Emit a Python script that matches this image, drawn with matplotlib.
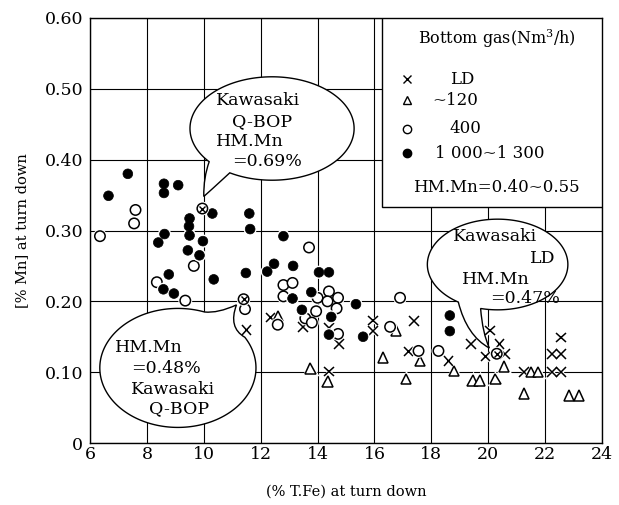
import numpy as np
import matplotlib
matplotlib.use("Agg")
import matplotlib.pyplot as plt
from matplotlib.path import Path
from matplotlib.patches import PathPatch, Rectangle
import matplotlib.patheffects as pe

# (%T.Fe, %Mn) at turn down, grouped by bottom-gas flow rate
ld_fe = [11.5, 12.35, 13.5, 14.4, 14.75, 14.4, 15.95, 15.95, 17.4, 17.2, 18.6,
         19.4, 20.05, 19.9, 20.4, 20.6, 21.25, 22.55, 22.25, 22.55, 22.25, 22.55]
ld_mn = [0.160, 0.177, 0.164, 0.162, 0.140, 0.101, 0.173, 0.158, 0.172, 0.129, 0.116,
         0.140, 0.159, 0.122, 0.140, 0.126, 0.100, 0.149, 0.126, 0.126, 0.100, 0.100]

g120_fe = [12.6, 13.75, 14.35, 16.75, 16.3, 17.6, 17.1, 18.8, 19.45, 19.7, 20.25,
           20.55, 21.5, 21.75, 21.25, 22.85, 23.2]
g120_mn = [0.179, 0.105, 0.087, 0.159, 0.121, 0.116, 0.090, 0.102, 0.088, 0.088, 0.090,
           0.108, 0.100, 0.100, 0.070, 0.067, 0.067]

g400_fe = [6.35, 7.6, 7.55, 9.65, 8.35, 9.35, 11.45, 13.7, 12.8, 13.12, 12.8, 14.0,
           14.4, 14.35, 14.72, 14.67, 13.95, 13.57, 13.8, 12.6, 14.72, 16.9, 16.55,
           17.55, 18.25]
g400_mn = [0.292, 0.329, 0.310, 0.250, 0.227, 0.201, 0.189, 0.276, 0.223, 0.226, 0.207,
           0.205, 0.214, 0.200, 0.205, 0.190, 0.186, 0.176, 0.170, 0.167, 0.154, 0.205,
           0.164, 0.130, 0.130]

g1000_fe = [6.65, 7.33, 8.6, 8.6, 9.1, 10.3, 11.6, 11.63, 9.5, 9.48, 9.5, 8.62, 8.4,
            9.97, 9.44, 9.85, 8.77, 10.35, 11.48, 8.58, 8.95, 12.8, 12.47, 12.23, 13.14,
            14.05, 14.4, 13.12, 13.78, 15.35, 13.45, 14.48, 14.4, 15.6, 18.65, 18.65]
g1000_mn = [0.349, 0.380, 0.366, 0.353, 0.364, 0.324, 0.324, 0.302, 0.317, 0.306, 0.293,
            0.295, 0.283, 0.285, 0.272, 0.265, 0.238, 0.231, 0.240, 0.217, 0.211, 0.292,
            0.253, 0.242, 0.250, 0.241, 0.241, 0.204, 0.213, 0.196, 0.188, 0.178, 0.153,
            0.150, 0.180, 0.158]

# Kawasaki heats: Q-BOP (HM.Mn 0.69 %), Q-BOP (HM.Mn 0.48 %), LD (HM.Mn 0.47 %)
kw_fe = [9.95, 11.4, 20.3]
kw_mn = [0.331, 0.203, 0.126]

x_ticks = [6, 8, 10, 12, 14, 16, 18, 20, 22, 24]
y_ticks = [0, 0.1, 0.2, 0.3, 0.4, 0.5, 0.6]
y_ticklabels = ["0", "0.10", "0.20", "0.30", "0.40", "0.50", "0.60"]

plt.rcParams["font.family"] = ["DejaVu Serif"]
plt.rcParams["mathtext.fontset"] = "dejavuserif"

fig = plt.figure(figsize=(6.19, 5.05), dpi=100)
ax = fig.add_axes([90 / 619, 62 / 505, 512 / 619, 425 / 505])
ax.set_xlim(6, 24)
ax.set_ylim(0, 0.6)
ax.set_xticks(x_ticks)
ax.set_yticks(y_ticks)
ax.set_yticklabels(y_ticklabels)
ax.tick_params(length=0, labelsize=12.5, pad=2)
ax.tick_params(axis="y", pad=5)
ax.grid(True, color="black", lw=0.8)
ax.set_axisbelow(True)
for s in ax.spines.values():
    s.set_linewidth(1.0)

ax.set_xlabel("(% T.Fe) at turn down", fontsize=10.5, labelpad=16)
ax.set_ylabel("[% Mn] at turn down", fontsize=10.5, labelpad=11)

halo = [pe.Stroke(linewidth=2.5, foreground="white"), pe.Normal()]
ax.plot(ld_fe, ld_mn, ls="none", marker="x", ms=7, mew=1.1, color="black",
        path_effects=halo, zorder=3)
ax.plot(g120_fe, g120_mn, ls="none", marker="^", ms=7.5, mew=1.1, mfc="white",
        mec="black", path_effects=halo, zorder=3)
ax.plot(g400_fe, g400_mn, ls="none", marker="o", ms=7.5, mew=1.1, mfc="white",
        mec="black", path_effects=halo, zorder=3)
ax.plot(g1000_fe, g1000_mn, ls="none", marker="o", ms=7, mew=0.5, mfc="black",
        mec="black", path_effects=halo, zorder=3)
ax.plot(kw_fe, kw_mn, ls="none", marker="o", ms=7.5, mew=1.1, mfc="white",
        mec="black", path_effects=halo, zorder=4)
ax.plot(kw_fe, kw_mn, ls="none", marker="x", ms=5, mew=1.0, color="black", zorder=5)


def bubble(cx, cy, a, b, t1, t2, tip, c1, c2, n=240):
    """Speech bubble: ellipse with a gap between angles t1..t2 and a tail to tip."""
    ts = np.radians(np.linspace(t2, t1 + 360, n))
    xs = cx + a * np.cos(ts)
    ys = cy + b * np.sin(ts)
    verts = list(zip(xs, ys))
    codes = [Path.MOVETO] + [Path.LINETO] * (n - 1)
    verts += [c1, tip, c2, (xs[0], ys[0]), (xs[0], ys[0])]
    codes += [Path.CURVE3, Path.CURVE3, Path.CURVE3, Path.CURVE3, Path.CLOSEPOLY]
    patch = PathPatch(Path(verts, codes), facecolor="white", edgecolor="black",
                      lw=1.0, zorder=6)
    ax.add_patch(patch)


fs_b = 12.5

# bubble for the Q-BOP heat with HM.Mn 0.69 %
tip1 = (kw_fe[0] + 0.05, kw_mn[0] + 0.017)
bubble(12.40, 0.444, 2.885, 0.073, -140, -121, tip1, (9.99, 0.375), (10.2, 0.355))
for txt, x, y in [("Kawasaki", 10.43, 0.483), ("Q-BOP", 10.99, 0.453),
                  ("HM.Mn", 10.43, 0.425), ("=0.69%", 10.99, 0.397)]:
    ax.text(x, y, txt, fontsize=fs_b, ha="left", va="center", zorder=7)

# bubble for the Q-BOP heat with HM.Mn 0.48 %
tip2 = (kw_fe[1] - 0.25, kw_mn[1] - 0.008)
bubble(9.09, 0.106, 2.745, 0.084, 31, 70, tip2, (10.85, 0.163), (10.5, 0.183))
for txt, x, y in [("HM.Mn", 6.89, 0.135), ("=0.48%", 7.43, 0.105),
                  ("Kawasaki", 7.43, 0.076), ("Q-BOP", 8.06, 0.048)]:
    ax.text(x, y, txt, fontsize=fs_b, ha="left", va="center", zorder=7)

# bubble for the LD heat with HM.Mn 0.47 %
tip3 = (kw_fe[2] - 0.26, kw_mn[2] + 0.008)
bubble(20.33, 0.252, 2.47, 0.064, -124, -104, tip3, (19.245, 0.1515), (19.8, 0.155))
for txt, x, y in [("Kawasaki", 18.76, 0.291), ("LD", 21.47, 0.260),
                  ("HM.Mn", 19.08, 0.231), ("=0.47%", 20.07, 0.204)]:
    ax.text(x, y, txt, fontsize=fs_b, ha="left", va="center", zorder=7)

# legend box
T = ax.transAxes
ax.add_patch(Rectangle((0.570, 0.555), 0.430, 0.445, transform=T, facecolor="white",
                       edgecolor="black", lw=1.0, zorder=6))
ax.text(0.795, 0.951, "Bottom gas(Nm$^3$/h)", transform=T, fontsize=11.5,
        ha="center", va="center", zorder=7)
rows = [("x", "white", "LD", 0.703, 0.856),
        ("^", "white", "~120", 0.668, 0.807),
        ("o", "white", "400", 0.703, 0.739),
        ("o", "black", "1 000~1 300", 0.674, 0.682)]
for mk, fc, label, tx, ty in rows:
    ax.plot([0.619], [ty], transform=T, ls="none", marker=mk, ms=6, mew=1.0,
            mfc=fc, mec="black", color="black", zorder=7, clip_on=False)
    ax.text(tx, ty, label, transform=T, fontsize=12, ha="left", va="center", zorder=7)
ax.text(0.793, 0.600, "HM.Mn=0.40~0.55", transform=T, fontsize=12,
        ha="center", va="center", zorder=7)

fig.savefig("out.png", dpi=100)
